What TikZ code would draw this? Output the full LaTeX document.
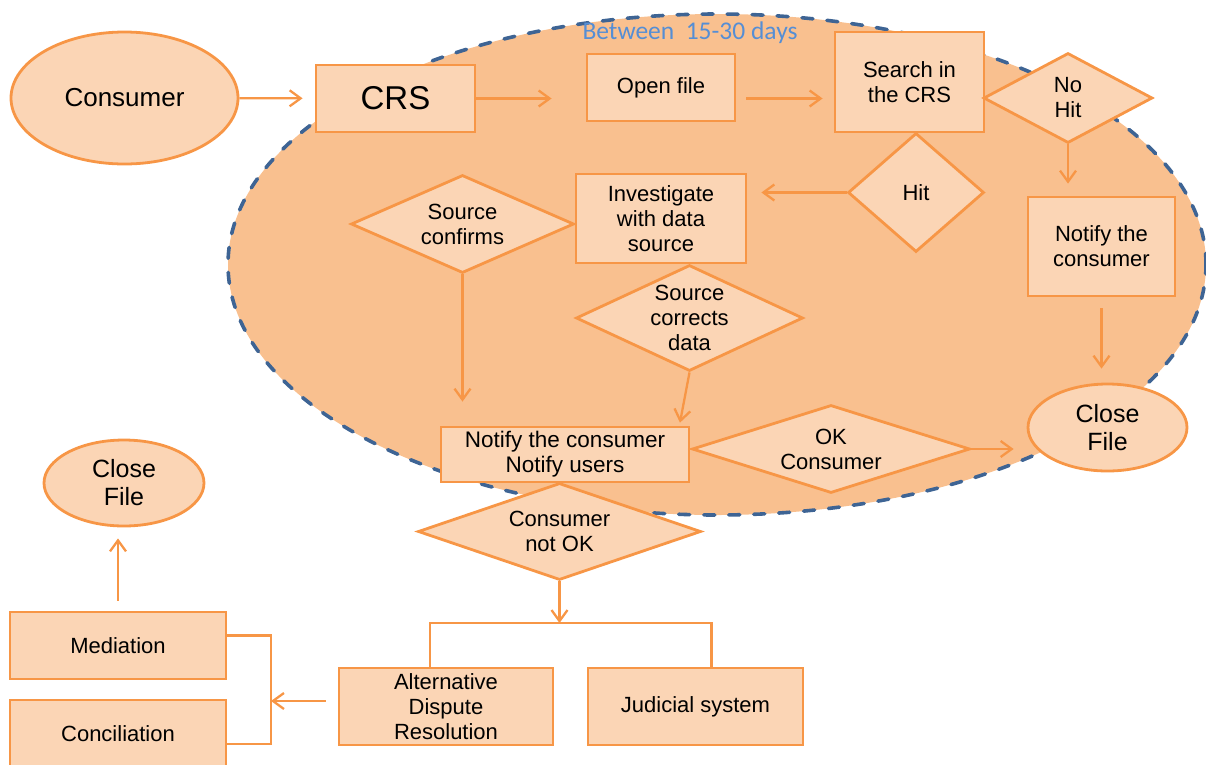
\documentclass[tikz,border=0pt]{standalone}
\usepackage{fontspec}
\setmainfont{Liberation Sans}
\newfontfamily\daysfont{Carlito}
\usetikzlibrary{shapes.geometric,arrows.meta}
\definecolor{orangeline}{HTML}{F79646}
\definecolor{peach}{HTML}{FBD5B5}
\definecolor{zone}{HTML}{F9C08F}
\definecolor{dashblue}{HTML}{3E6494}
\definecolor{daysblue}{HTML}{558ED5}

\begin{document}
\begin{tikzpicture}[x=1pt,y=-1pt,
    >={Straight Barb[length=11pt,width=16pt]},
    box/.style={draw=orangeline,fill=peach,line width=2.8pt,inner sep=0pt,align=center,
                font=\fontsize{22}{25}\selectfont},
    oval/.style={box,ellipse},
    choice/.style={box,diamond,inner sep=-2pt},
    link/.style={draw=orangeline,line width=2.3pt}]
    \useasboundingbox (0,0) rectangle (1206,764);

    \draw[draw=dashblue,fill=zone,line width=3.6pt,line cap=round,dash pattern=on 11pt off 14pt]
        (717,264.5) ellipse [x radius=489pt,y radius=250.5pt];
    \node[text=daysblue,font=\daysfont\fontsize{25.5}{28}\selectfont] (days) at (690,33) {Between~~15-30 days};

    \node[oval,minimum width=227pt,minimum height=132pt,font=\fontsize{26}{30}\selectfont] (consumer) at (124.5,98) {Consumer};
    \node[box,minimum width=159pt,minimum height=67pt,font=\fontsize{33}{36}\selectfont] (crs) at (395.5,98.5) {CRS};
    \node[box,minimum width=148pt,minimum height=67pt] (openfile) at (661,87.5) {Open file};
    \node[box,minimum width=149pt,minimum height=100pt] (search) at (909.5,82) {Search in\\the CRS};
    \node[choice,aspect=1.88,minimum width=169pt,minimum height=90pt] (nohit) at (1068,98) {No\\Hit};
    \node[choice,aspect=1.14,minimum width=136pt,minimum height=119pt] (hit) at (916,192.5) {Hit};
    \node[box,minimum width=170pt,minimum height=89pt] (investigate) at (661,218.5) {Investigate\\with data\\source};
    \node[box,minimum width=147pt,minimum height=99pt] (notifyA) at (1101.5,246.5) {Notify the\\consumer};
    \node[choice,aspect=2.28,minimum width=223pt,minimum height=98pt] (confirms) at (462.5,224) {Source\\confirms};
    \node[choice,aspect=2.14,minimum width=227pt,minimum height=106pt] (corrects) at (689.5,318) {Source\\corrects\\data};
    \node[oval,minimum width=159pt,minimum height=87pt,font=\fontsize{25}{28}\selectfont] (closeA) at (1107.5,427.5) {Close\\File};
    \node[box,minimum width=248pt,minimum height=55pt,font=\fontsize{22.5}{25}\selectfont] (notifyB) at (565,454.5) {Notify the consumer\\Notify users};
    \node[choice,aspect=3.16,minimum width=278pt,minimum height=88pt] (okcons) at (831,449) {OK\\Consumer};
    \node[choice,aspect=2.92,minimum width=283pt,minimum height=97pt] (notok) at (559.5,531.5) {Consumer\\not OK};
    \node[oval,minimum width=160pt,minimum height=86pt,font=\fontsize{25}{28}\selectfont] (closeB) at (124,483) {Close\\File};
    \node[box,minimum width=216pt,minimum height=67pt] (mediation) at (118,645.5) {Mediation};
    \node[box,minimum width=216pt,minimum height=68pt] (conciliation) at (118,734) {Conciliation};
    \node[box,minimum width=214pt,minimum height=77pt] (adr) at (446,706.5) {Alternative\\Dispute\\Resolution};
    \node[box,minimum width=215pt,minimum height=77pt] (judicial) at (695.5,706.5) {Judicial system};

    \coordinate (split) at (554,623);
    \coordinate (join) at (271,701);

    \path[link] (consumer)              edge[->,shorten >=12pt]                 (crs)
                (crs.east)              edge[->,shorten >=34pt]                 (crs.east -| openfile.west)
                (openfile.east |- crs)  edge[->,shorten <=10pt,shorten >=11pt]  (search.west |- crs)
                (nohit.south)           edge[->,shorten >=12pt]                 (nohit.south |- notifyA.north)
                (hit.west)              edge[->,shorten >=14pt]                 (hit.west -| investigate.east)
                (notifyA.south)         edge[->,shorten <=11pt,shorten >=14pt]  (notifyA.south |- closeA.north)
                (confirms.south)        edge[->,shorten >=24pt]                 (confirms.south |- notifyB.north)
                (corrects.south)        edge[->,shorten >=3pt]                  ([xshift=-11pt]notifyB.north east)
                (okcons.east)           edge[->,shorten >=13pt]                 (okcons.east -| closeA.west)
                (notok.south)           edge[->]                                (notok.south |- split)
                (adr.west |- join)      edge[->,shorten <=12pt]                 (join)
                (mediation.north)       edge[->,shorten <=10pt,shorten >=11pt]  (mediation.north |- closeB.south);

    \draw[link] ([xshift=-16pt]adr.north) |- (split) -| ([xshift=16pt]judicial.north);
    \draw[link] ([yshift=10pt]mediation.east) -| (join) |- ([yshift=-10pt]conciliation.east);
\end{tikzpicture}
\end{document}
